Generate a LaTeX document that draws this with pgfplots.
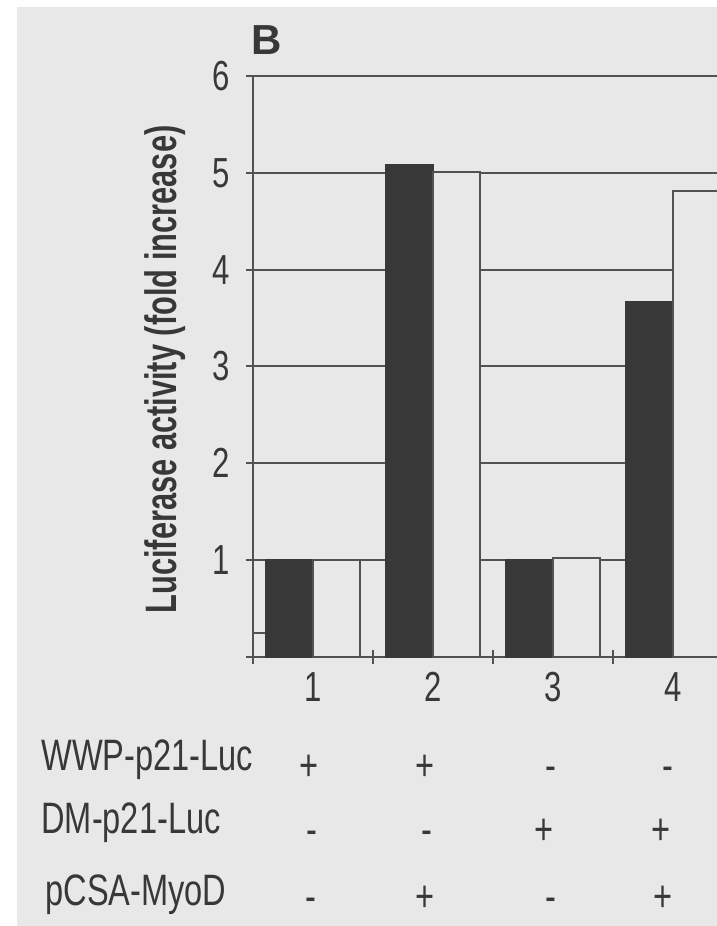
\documentclass[border=0pt]{standalone}
\usepackage{pgfplots}
\pgfplotsset{compat=1.18}
\usepackage{fontspec}
\setmainfont{Liberation Sans}
\newfontfamily\cond[FakeStretch=0.74]{Liberation Sans}
\newfontfamily\condl[FakeStretch=0.70]{Liberation Sans}
\definecolor{paper}{gray}{0.91}
\definecolor{ink}{gray}{0.22}
\definecolor{barc}{gray}{0.22}
\definecolor{linec}{gray}{0.32}
\newcommand\tabfont{\cond\fontsize{22bp}{26bp}\selectfont}
\pgfdeclarelayer{bglayer}
\pgfsetlayers{bglayer,main}
\begin{document}
\begin{tikzpicture}
\begin{axis}[
  scale only axis, width=232bp, height=290.5bp,
  xmin=0.5, xmax=4.367, ymin=0, ymax=6,
  axis x line=bottom, axis y line=left,
  axis line style={-, draw=linec, line width=1bp},
  ybar, bar width=0.392,
  ytick={0,...,6}, yticklabels={,1,2,3,4,5,6},
  ymajorgrids, grid style={draw=linec, line width=1bp},
  tick style={draw=linec, line width=1bp},
  tick align=center, major tick length=7bp,
  xtick={0.5,1.5,2.5,3.5}, xticklabels={,,,},
  extra x ticks={1,2,3,4}, extra x tick labels={1,2,3,4},
  extra x tick style={major tick length=0pt, grid=none},
  extra y ticks={0.25}, extra y tick labels={},
  extra y tick style={grid=none, tick align=inside, major tick length=6bp},
  /pgf/number format/assume math mode=true,
  tick label style={font=\cond\fontsize{21bp}{25bp}\selectfont, text=ink},
  yticklabel style={anchor=east, inner sep=0pt, xshift=-8bp},
  xticklabel style={anchor=north, inner sep=0pt, yshift=-7.5bp},
  ylabel={Luciferase activity (fold increase)},
  y label style={at={(rel axis cs:0,0.5)}, anchor=center, yshift=44bp, xshift=-1.5bp,
    font=\condl\bfseries\fontsize{22bp}{26bp}\selectfont, text=ink},
]
\addplot[bar shift=-0.196, fill=barc, draw=barc, line width=1bp]
  coordinates {(1,1.00) (2,5.08) (3,1.00) (4,3.67)};
\addplot[bar shift=0.196, fill=paper, draw=linec, line width=1bp]
  coordinates {(1,1.00) (2,5.01) (3,1.02) (4,4.81)};
\coordinate (O) at (axis cs:0.5,0);
\end{axis}
% local pixel frame: x = px-253, y = 657-py
\begin{scope}[shift={(O)}, x=0.5bp, y=0.5bp]
\begin{pgfonlayer}{bglayer}
\fill[white] (-253,-269) rectangle (464,657);
\fill[paper] (-236,-269) rectangle (464,650);
\end{pgfonlayer}
\coordinate (BL) at (-253,-269);
\coordinate (TR) at (464,657);
\node[anchor=base west, inner sep=0, text=ink, font=\bfseries\fontsize{21bp}{25bp}\selectfont] at (-2,602) {B};
\node[anchor=base west, inner sep=0, text=ink, font=\tabfont] at (-212,-113) {WWP-p21-Luc};
\node[anchor=base west, inner sep=0, text=ink, font=\tabfont] at (-212,-176) {DM-p21-Luc};
\node[anchor=base west, inner sep=0, text=ink, font=\tabfont] at (-208,-248) {pCSA-MyoD};
\foreach \x/\s in {309/+,425/+,551/-,668/-} \node[anchor=base, inner sep=0, text=ink, font=\tabfont] at (\x-253,-123) {\s};
\foreach \x/\s in {312/-,427/-,544/+,661/+} \node[anchor=base, inner sep=0, text=ink, font=\tabfont] at (\x-253,-187) {\s};
\foreach \x/\s in {311/-,425/+,551/-,663/+} \node[anchor=base, inner sep=0, text=ink, font=\tabfont] at (\x-253,-254) {\s};
\end{scope}
\pgfresetboundingbox
\useasboundingbox (BL) rectangle (TR);
\end{tikzpicture}
\end{document}
